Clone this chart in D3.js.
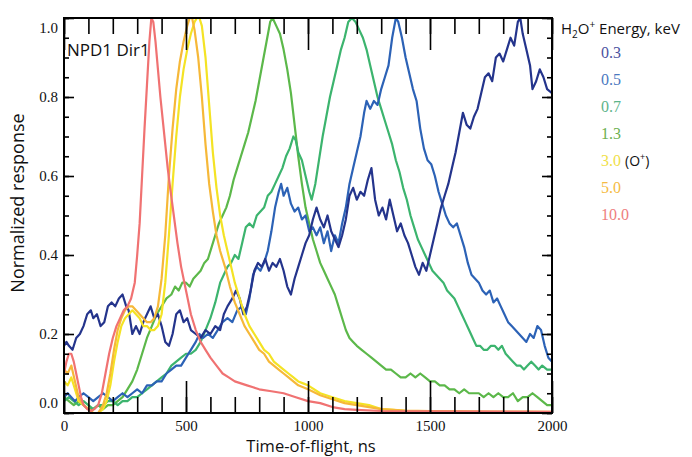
<!DOCTYPE html>
<html>
<head>
<meta charset="utf-8">
<script src="https://cdn.jsdelivr.net/npm/d3@7"></script>
<style>
  html, body { margin: 0; padding: 0; background: #fff; }
  svg { display: block; }
</style>
</head>
<body>
<svg id="chart" width="692" height="457"></svg>
<script>
// ---------- DATA (time-of-flight ns, normalized response) ----------
const energies = ["0.3", "0.5", "0.7", "1.3", "3.0", "5.0", "10.0"];
const seriesColors = ["#24348c", "#2c62b6", "#3cb46e", "#5cb84a", "#f4e324", "#f6b838", "#f07272"];
const legendColors = ["#4b52a0", "#4a78c0", "#5db48a", "#6cb050", "#f0e048", "#f5bb44", "#ee7e7e"];
const xTicks = [0, 500, 1000, 1500, 2000];
const yTicks = [0.0, 0.2, 0.4, 0.6, 0.8, 1.0];

const e03 = [[0,0.17],[10,0.18],[20,0.17],[35,0.16],[50,0.19],[65,0.20],[80,0.22],[95,0.25],[110,0.26],[120,0.24],[135,0.25],[150,0.22],[165,0.23],[180,0.27],[195,0.28],[210,0.27],[225,0.29],[240,0.30],[255,0.27],[265,0.26],[280,0.20],[295,0.22],[310,0.20],[325,0.23],[340,0.25],[355,0.27],[370,0.24],[385,0.25],[400,0.22],[415,0.18],[430,0.17],[445,0.20],[460,0.25],[475,0.26],[490,0.23],[505,0.24],[520,0.21],[540,0.20],[560,0.19],[580,0.21],[600,0.20],[620,0.22],[640,0.21],[655,0.25],[670,0.27],[690,0.29],[705,0.31],[720,0.29],[735,0.25],[750,0.27],[765,0.31],[780,0.36],[795,0.38],[810,0.37],[825,0.39],[840,0.36],[855,0.38],[870,0.37],[885,0.39],[900,0.36],[915,0.32],[930,0.30],[945,0.34],[960,0.37],[975,0.40],[990,0.43],[1005,0.45],[1020,0.49],[1035,0.52],[1050,0.49],[1065,0.47],[1080,0.50],[1095,0.46],[1110,0.44],[1125,0.42],[1140,0.45],[1155,0.49],[1170,0.55],[1185,0.57],[1200,0.54],[1215,0.56],[1230,0.55],[1245,0.59],[1260,0.62],[1275,0.54],[1290,0.50],[1305,0.52],[1320,0.49],[1335,0.54],[1350,0.50],[1365,0.46],[1380,0.48],[1395,0.45],[1410,0.43],[1425,0.40],[1440,0.37],[1455,0.35],[1470,0.38],[1485,0.36],[1500,0.40],[1515,0.44],[1530,0.48],[1545,0.52],[1560,0.55],[1575,0.58],[1590,0.62],[1605,0.66],[1620,0.71],[1635,0.76],[1650,0.73],[1665,0.72],[1680,0.75],[1695,0.77],[1710,0.81],[1725,0.85],[1740,0.86],[1755,0.84],[1770,0.90],[1785,0.91],[1800,0.89],[1815,0.92],[1830,0.95],[1845,0.93],[1860,0.99],[1870,1.0],[1880,0.96],[1895,0.92],[1910,0.88],[1920,0.82],[1935,0.84],[1950,0.87],[1965,0.85],[1980,0.82],[2000,0.81]];

const e05 = [[0,0.04],[15,0.05],[30,0.04],[45,0.03],[60,0.04],[80,0.05],[100,0.04],[120,0.03],[140,0.04],[160,0.05],[180,0.04],[200,0.03],[220,0.04],[240,0.05],[260,0.04],[280,0.05],[300,0.06],[320,0.05],[340,0.07],[360,0.07],[380,0.08],[400,0.08],[420,0.10],[440,0.11],[460,0.12],[480,0.12],[500,0.14],[520,0.16],[540,0.18],[555,0.20],[570,0.19],[590,0.20],[610,0.19],[630,0.21],[650,0.23],[670,0.24],[690,0.23],[710,0.26],[730,0.27],[745,0.25],[760,0.29],[775,0.35],[790,0.37],[805,0.36],[820,0.38],[835,0.41],[850,0.46],[865,0.52],[880,0.56],[890,0.58],[900,0.55],[915,0.57],[930,0.53],[945,0.51],[960,0.52],[975,0.49],[990,0.50],[1005,0.46],[1020,0.47],[1035,0.45],[1050,0.47],[1065,0.43],[1080,0.46],[1095,0.41],[1110,0.45],[1125,0.43],[1140,0.48],[1155,0.52],[1170,0.58],[1185,0.62],[1200,0.66],[1215,0.70],[1230,0.76],[1240,0.79],[1255,0.77],[1270,0.79],[1285,0.78],[1300,0.82],[1315,0.85],[1330,0.88],[1345,0.95],[1360,1.0],[1370,0.99],[1385,0.95],[1400,0.90],[1415,0.86],[1430,0.82],[1445,0.79],[1460,0.72],[1475,0.67],[1490,0.64],[1505,0.63],[1520,0.60],[1535,0.56],[1550,0.53],[1565,0.50],[1580,0.48],[1595,0.47],[1610,0.48],[1625,0.45],[1640,0.42],[1655,0.38],[1670,0.35],[1685,0.34],[1700,0.33],[1715,0.31],[1730,0.30],[1745,0.31],[1760,0.28],[1775,0.29],[1790,0.27],[1805,0.25],[1820,0.23],[1835,0.22],[1850,0.21],[1865,0.20],[1880,0.19],[1895,0.18],[1910,0.20],[1925,0.19],[1940,0.22],[1955,0.21],[1970,0.17],[1985,0.14],[2000,0.13]];

const e07 = [[0,0.03],[20,0.04],[40,0.03],[60,0.02],[80,0.03],[100,0.02],[120,0.01],[140,0.02],[160,0.02],[180,0.03],[200,0.03],[220,0.02],[240,0.03],[260,0.03],[280,0.04],[300,0.04],[320,0.05],[340,0.06],[360,0.07],[380,0.08],[400,0.09],[420,0.10],[440,0.12],[460,0.13],[480,0.14],[500,0.15],[520,0.15],[540,0.16],[560,0.18],[580,0.21],[600,0.24],[620,0.28],[640,0.33],[655,0.35],[670,0.37],[685,0.38],[700,0.40],[715,0.39],[730,0.43],[745,0.47],[760,0.48],[775,0.47],[790,0.50],[805,0.51],[820,0.52],[835,0.55],[850,0.56],[865,0.58],[880,0.60],[895,0.62],[910,0.65],[925,0.67],[940,0.70],[950,0.69],[960,0.66],[975,0.64],[990,0.60],[1005,0.56],[1015,0.54],[1030,0.58],[1045,0.64],[1060,0.70],[1075,0.75],[1090,0.80],[1105,0.84],[1120,0.88],[1135,0.92],[1150,0.95],[1165,0.99],[1180,1.0],[1195,0.99],[1210,0.97],[1225,0.95],[1240,0.92],[1255,0.88],[1270,0.84],[1285,0.80],[1300,0.77],[1315,0.74],[1330,0.71],[1345,0.68],[1360,0.64],[1375,0.61],[1390,0.57],[1405,0.54],[1420,0.50],[1435,0.47],[1450,0.44],[1465,0.42],[1480,0.40],[1495,0.38],[1510,0.36],[1525,0.35],[1540,0.34],[1555,0.33],[1570,0.31],[1585,0.30],[1600,0.29],[1615,0.27],[1630,0.25],[1645,0.23],[1660,0.21],[1675,0.19],[1690,0.17],[1705,0.17],[1720,0.16],[1735,0.16],[1750,0.17],[1765,0.17],[1780,0.16],[1795,0.17],[1810,0.15],[1825,0.14],[1840,0.13],[1855,0.12],[1870,0.12],[1885,0.11],[1900,0.12],[1915,0.13],[1930,0.12],[1945,0.11],[1960,0.12],[1980,0.11],[2000,0.11]];

const e13 = [[0,0.04],[20,0.03],[40,0.02],[60,0.03],[80,0.02],[100,0.01],[120,0.01],[140,0.02],[160,0.01],[180,0.02],[200,0.02],[220,0.03],[240,0.04],[260,0.06],[280,0.08],[300,0.11],[320,0.15],[340,0.19],[360,0.22],[380,0.25],[400,0.27],[420,0.29],[440,0.30],[455,0.32],[470,0.31],[485,0.33],[500,0.33],[515,0.32],[530,0.34],[545,0.35],[560,0.36],[575,0.38],[590,0.39],[605,0.42],[620,0.45],[635,0.48],[650,0.50],[665,0.52],[680,0.55],[695,0.59],[710,0.62],[725,0.65],[740,0.68],[755,0.71],[770,0.75],[785,0.79],[800,0.84],[815,0.89],[830,0.94],[845,0.99],[855,1.0],[870,0.98],[885,0.96],[900,0.92],[915,0.87],[930,0.81],[945,0.73],[960,0.65],[975,0.58],[990,0.52],[1005,0.48],[1020,0.44],[1035,0.41],[1050,0.38],[1065,0.36],[1080,0.34],[1095,0.32],[1110,0.30],[1125,0.27],[1140,0.24],[1155,0.21],[1170,0.19],[1185,0.18],[1200,0.17],[1220,0.16],[1240,0.15],[1260,0.14],[1280,0.13],[1300,0.12],[1320,0.11],[1340,0.11],[1360,0.10],[1380,0.09],[1400,0.09],[1420,0.10],[1440,0.09],[1460,0.10],[1480,0.09],[1500,0.08],[1520,0.08],[1540,0.07],[1560,0.07],[1580,0.06],[1600,0.06],[1620,0.05],[1640,0.06],[1660,0.05],[1680,0.05],[1700,0.05],[1720,0.04],[1740,0.05],[1760,0.04],[1780,0.05],[1800,0.04],[1820,0.04],[1840,0.05],[1860,0.03],[1880,0.04],[1900,0.04],[1920,0.05],[1940,0.04],[1960,0.03],[1980,0.02],[2000,0.02]];

const e30 = [[0,0.08],[15,0.07],[30,0.09],[45,0.06],[60,0.03],[80,0.02],[100,0.01],[120,0.0],[140,0.0],[160,0.01],[175,0.03],[190,0.07],[205,0.13],[220,0.18],[235,0.22],[250,0.24],[265,0.25],[280,0.26],[295,0.25],[310,0.24],[325,0.22],[340,0.22],[355,0.21],[370,0.21],[385,0.22],[400,0.25],[415,0.33],[430,0.45],[445,0.58],[460,0.70],[475,0.80],[490,0.87],[505,0.92],[520,0.96],[535,0.99],[545,1.0],[555,1.0],[565,0.98],[580,0.90],[595,0.78],[610,0.66],[625,0.57],[640,0.50],[655,0.45],[670,0.41],[685,0.37],[700,0.33],[720,0.29],[740,0.25],[760,0.22],[780,0.20],[800,0.18],[820,0.16],[840,0.15],[860,0.13],[880,0.12],[900,0.11],[920,0.10],[940,0.09],[960,0.08],[980,0.075],[1000,0.07],[1050,0.05],[1100,0.04],[1150,0.03],[1200,0.025],[1250,0.02],[1300,0.01],[1350,0.008],[1400,0.005],[1500,0.005],[1600,0.004],[1700,0.003],[1800,0.003],[1900,0.003],[2000,0.002]];

const e50 = [[0,0.11],[15,0.10],[30,0.12],[45,0.08],[60,0.04],[80,0.02],[100,0.01],[120,0.0],[140,0.0],[160,0.02],[175,0.05],[190,0.10],[205,0.16],[220,0.21],[235,0.24],[250,0.26],[265,0.27],[280,0.27],[295,0.26],[310,0.25],[325,0.24],[340,0.23],[355,0.23],[370,0.24],[385,0.27],[400,0.34],[415,0.45],[430,0.60],[445,0.72],[460,0.82],[475,0.89],[490,0.94],[505,0.98],[515,1.0],[525,1.0],[535,0.97],[550,0.90],[565,0.80],[580,0.68],[595,0.58],[610,0.51],[625,0.45],[640,0.41],[660,0.37],[680,0.32],[700,0.28],[720,0.25],[740,0.22],[760,0.20],[780,0.18],[800,0.16],[820,0.15],[840,0.13],[860,0.12],[880,0.11],[900,0.10],[920,0.09],[940,0.08],[960,0.07],[980,0.065],[1000,0.06],[1050,0.045],[1100,0.035],[1150,0.025],[1200,0.02],[1250,0.015],[1300,0.01],[1400,0.006],[1500,0.005],[1600,0.004],[1800,0.003],[2000,0.003]];

const e100 = [[0,0.10],[10,0.13],[20,0.15],[30,0.15],[40,0.13],[50,0.10],[60,0.07],[70,0.04],[80,0.02],[95,0.01],[110,0.005],[125,0.01],[140,0.02],[155,0.05],[170,0.10],[185,0.15],[200,0.19],[215,0.22],[230,0.24],[245,0.26],[260,0.27],[275,0.29],[290,0.33],[300,0.40],[310,0.48],[320,0.60],[330,0.72],[340,0.83],[350,0.94],[358,1.0],[366,0.99],[375,0.94],[385,0.87],[395,0.80],[405,0.74],[415,0.68],[425,0.62],[435,0.57],[450,0.50],[465,0.43],[480,0.37],[500,0.31],[520,0.25],[540,0.21],[560,0.18],[580,0.16],[600,0.14],[625,0.12],[650,0.10],[675,0.09],[700,0.08],[725,0.075],[750,0.07],[775,0.065],[800,0.06],[850,0.055],[900,0.05],[950,0.04],[1000,0.03],[1050,0.025],[1100,0.015],[1150,0.01],[1200,0.008],[1300,0.005],[1500,0.004],[2000,0.003]];

const allSeries = [e03, e05, e07, e13, e30, e50, e100];
const drawOrder = [3, 2, 1, 0, 4, 5, 6];

// ---------- LAYOUT ----------
const svg = d3.select("#chart");
const plot = { left: 64, right: 552, top: 18, bottom: 413 };
const x = d3.scaleLinear().domain([0, 2000]).range([plot.left, plot.right]);
const y = d3.scaleLinear().domain([0, 1]).range([plot.bottom, plot.top]);

svg.append("rect").attr("width", 692).attr("height", 457).attr("fill", "#fff");

svg.append("defs").append("clipPath").attr("id", "clip")
  .append("rect").attr("x", plot.left).attr("y", plot.top)
  .attr("width", plot.right - plot.left).attr("height", plot.bottom - plot.top);

const line = d3.line().x(d => x(d[0])).y(d => y(d[1]));
const gLines = svg.append("g").attr("clip-path", "url(#clip)");
drawOrder.forEach(i => {
  gLines.append("path").datum(allSeries[i])
    .attr("d", line).attr("fill", "none")
    .attr("stroke", seriesColors[i]).attr("stroke-width", 2.2)
    .attr("stroke-linejoin", "round");
});

// ---------- AXES ----------
const minorX = d3.range(0, 2001, 100);
const minorY = d3.range(0, 1.0001, 0.05);
function styleAxis(g) {
  g.select(".domain").remove();
  g.selectAll("line").attr("stroke", "#000").attr("stroke-width", 1.6);
}
svg.append("g").attr("transform", `translate(0,${plot.bottom})`)
  .call(d3.axisBottom(x).tickValues(minorX).tickSize(-16).tickFormat("")).call(styleAxis);
svg.append("g").attr("transform", `translate(0,${plot.bottom})`)
  .call(d3.axisBottom(x).tickValues(xTicks).tickSize(-32).tickPadding(7).tickFormat(d3.format("d")))
  .call(styleAxis)
  .selectAll("text").attr("font-family", "'Liberation Serif', serif").attr("font-size", 15).attr("fill", "#111");
svg.append("g").attr("transform", `translate(0,${plot.top})`)
  .call(d3.axisTop(x).tickValues(minorX).tickSize(-16).tickFormat("")).call(styleAxis);
svg.append("g").attr("transform", `translate(0,${plot.top})`)
  .call(d3.axisTop(x).tickValues(xTicks).tickSize(-32).tickFormat("")).call(styleAxis);

svg.append("g").attr("transform", `translate(${plot.left},0)`)
  .call(d3.axisLeft(y).tickValues(minorY).tickSize(-5).tickFormat("")).call(styleAxis);
const yl = svg.append("g").attr("transform", `translate(${plot.left},0)`)
  .call(d3.axisLeft(y).tickValues(yTicks).tickSize(-10).tickPadding(6).tickFormat(d3.format(".1f")))
  .call(styleAxis);
yl.selectAll("text").attr("font-family", "'Liberation Serif', serif").attr("font-size", 15).attr("fill", "#111")
  .attr("dy", d => d === 1 ? "0.95em" : (d === 0 ? "-0.35em" : "0.32em"));
svg.append("g").attr("transform", `translate(${plot.right},0)`)
  .call(d3.axisRight(y).tickValues(minorY).tickSize(-5).tickFormat("")).call(styleAxis);
svg.append("g").attr("transform", `translate(${plot.right},0)`)
  .call(d3.axisRight(y).tickValues(yTicks).tickSize(-10).tickFormat("")).call(styleAxis);

svg.append("rect").attr("x", plot.left).attr("y", plot.top)
  .attr("width", plot.right - plot.left).attr("height", plot.bottom - plot.top)
  .attr("fill", "none").attr("stroke", "#000").attr("stroke-width", 2);

// ---------- TITLES ----------
const sans = "'Open Sans', 'Noto Sans', sans-serif";
svg.append("text").attr("x", 311).attr("y", 452)
  .attr("text-anchor", "middle").attr("font-family", sans).attr("font-size", 16.5).attr("fill", "#111")
  .text("Time-of-flight, ns");
svg.append("text").attr("transform", `translate(24,203) rotate(-90)`)
  .attr("text-anchor", "middle").attr("font-family", sans).attr("font-size", 18).attr("fill", "#111")
  .text("Normalized response");
svg.append("text").attr("x", 67).attr("y", 56)
  .attr("font-family", sans).attr("font-size", 17).attr("fill", "#111")
  .text("NPD1 Dir1");

// ---------- LEGEND ----------
const lh = svg.append("text").attr("x", 561).attr("y", 34)
  .attr("font-family", sans).attr("font-size", 15).attr("fill", "#111");
lh.append("tspan").text("H");
lh.append("tspan").attr("font-size", 10).attr("dy", 4).text("2");
lh.append("tspan").attr("dy", -4).text("O");
lh.append("tspan").attr("font-size", 10).attr("dy", -6).text("+");
lh.append("tspan").attr("dy", 6).text(" Energy, keV");

energies.forEach((e, i) => {
  const ty = 58 + i * 27;
  svg.append("text").attr("x", 601).attr("y", ty)
    .attr("font-family", "'Liberation Serif', serif").attr("font-size", 16)
    .attr("fill", legendColors[i]).text(e);
});
const o = svg.append("text").attr("x", 625).attr("y", 58 + 4 * 27)
  .attr("font-family", sans).attr("font-size", 14).attr("fill", "#111");
o.append("tspan").text("(O");
o.append("tspan").attr("font-size", 9).attr("dy", -6).text("+");
o.append("tspan").attr("dy", 6).text(")");
</script>
</body>
</html>
